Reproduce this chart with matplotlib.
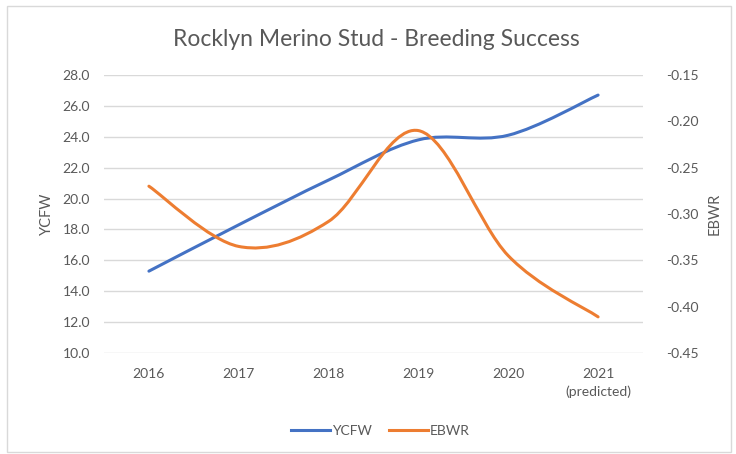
import numpy as np
import matplotlib
matplotlib.use("Agg")
import matplotlib.pyplot as plt
from matplotlib.path import Path
from matplotlib.patches import PathPatch, Rectangle
from matplotlib.lines import Line2D

years = ["2016", "2017", "2018", "2019", "2020", "2021\n(predicted)"]
ycfw = [15.3, 18.3, 21.2, 23.8, 24.1, 26.7]
ebwr = [-0.27, -0.335, -0.308, -0.21, -0.345, -0.411]

blue = "#4472C4"
orange = "#ED7D31"
grey_txt = "#595959"
grid_c = "#D9D9D9"

plt.rcParams["font.family"] = ["Lato", "DejaVu Sans"]


def smooth_path(x, y):
    # excel-like smoothed line: cubic bezier through the points
    x = np.asarray(x, float)
    y = np.asarray(y, float)
    n = len(x)
    verts = [(x[0], y[0])]
    codes = [Path.MOVETO]
    for i in range(n - 1):
        i0 = max(i - 1, 0)
        i3 = min(i + 2, n - 1)
        c1 = (x[i] + (x[i + 1] - x[i0]) / 6, y[i] + (y[i + 1] - y[i0]) / 6)
        c2 = (x[i + 1] - (x[i3] - x[i]) / 6, y[i + 1] - (y[i3] - y[i]) / 6)
        verts += [c1, c2, (x[i + 1], y[i + 1])]
        codes += [Path.CURVE4] * 3
    return Path(verts, codes)


fig = plt.figure(figsize=(7.36, 4.54), dpi=100)
ax = fig.add_axes([104 / 736, 1 - 353 / 454, 539 / 736, 278 / 454])
ax2 = ax.twinx()

xs = np.arange(len(years))
ax.add_patch(PathPatch(smooth_path(xs, ycfw), fc="none", ec=blue, lw=2.2,
                       capstyle="round", zorder=3))
ax2.add_patch(PathPatch(smooth_path(xs, ebwr), fc="none", ec=orange, lw=2.2,
                        capstyle="round", zorder=3))

ax.set_xlim(-0.5, 5.5)
ax.set_ylim(10, 28)
ax2.set_ylim(-0.45, -0.15)
ax.set_yticks(np.arange(10, 28.1, 2))
ax.set_yticklabels([f"{v:.1f}" for v in np.arange(10, 28.1, 2)])
ax2.set_yticks(np.arange(-0.45, -0.149, 0.05))
ax2.set_yticklabels([f"{v:.2f}" for v in np.arange(-0.45, -0.149, 0.05)])
ax.set_xticks(xs)
ax.set_xticklabels(years, linespacing=1.5)

ax.grid(axis="y", color=grid_c, lw=1)
ax.set_axisbelow(True)
for a in (ax, ax2):
    for s in a.spines.values():
        s.set_visible(False)
    a.tick_params(length=0, colors=grey_txt, labelsize=10)
ax.tick_params(axis="y", pad=10)
ax2.tick_params(axis="y", pad=17)
ax.tick_params(axis="x", pad=11)

ax.set_ylabel("YCFW", color=grey_txt, fontsize=10.5, labelpad=6)
ax2.set_ylabel("EBWR", color=grey_txt, fontsize=10.5, labelpad=6)

fig.text(0.511, 1 - 39 / 454, "Rocklyn Merino Stud - Breeding Success",
         ha="center", va="center", fontsize=16.5, color=grey_txt)

handles = [Line2D([], [], color=blue, lw=2.2), Line2D([], [], color=orange, lw=2.2)]
fig.legend(handles, ["YCFW", "EBWR"], loc="center", bbox_to_anchor=(0.517, 1 - 431 / 454),
           ncol=2, frameon=False, fontsize=10, labelcolor=grey_txt,
           handlelength=2.8, handletextpad=0.15, columnspacing=1.2)

fig.patches.append(Rectangle((7 / 736, 1 - 452 / 454), 724 / 736, 446 / 454,
                             transform=fig.transFigure, fill=False,
                             ec=grid_c, lw=1))

fig.savefig("out.png", dpi=100)
